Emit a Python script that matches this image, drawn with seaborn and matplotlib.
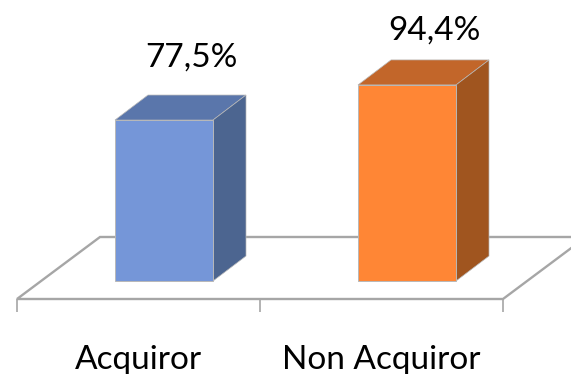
import matplotlib
matplotlib.use("Agg")
import matplotlib.pyplot as plt
import seaborn as sns
import pandas as pd
from matplotlib.patches import Polygon

categories = ["Acquiror", "Non Acquiror"]
values = [77.5, 94.4]
label_lift = [30.3, 26.4]
front_colors = ["#7596D8", "#FF8635"]
top_colors = ["#5A76AB", "#C2662A"]
side_colors = ["#4C6590", "#A0551F"]
grid_color = "#A6A6A6"

W, H = 571, 374
px_x = 243.0          # pixels per category
px_y = 2.077          # pixels per value unit

sns.set_theme(style="white")
plt.rcParams["font.family"] = ["Lato", "DejaVu Sans"]

fig = plt.figure(figsize=(W / 100, H / 100), dpi=100)
ax = fig.add_axes([17 / W, (H - 299) / H, 486 / W, 299 / H])

df = pd.DataFrame({"category": categories, "value": values})
sns.barplot(data=df, x="category", y="value", hue="category", palette=front_colors,
            saturation=1, legend=False, width=98 / px_x, ax=ax, edgecolor="#B8B8B8",
            linewidth=0.7, zorder=3, clip_on=False)

ax.set_xlim(-0.5, 1.5)
ax.set_ylim(-18 / px_y, 281 / px_y)

# depth of the 3D box, in data units
dx, dy = 33 / px_x, 25 / px_y
shift = 25.5 / px_x
fdx, fdy = 83 / px_x, 62 / px_y
y0 = ax.get_ylim()[0]

floor = Polygon([(-0.5, y0), (1.5, y0), (1.5 + fdx, y0 + fdy), (-0.5 + fdx, y0 + fdy)],
                closed=True, facecolor="white", edgecolor=grid_color, linewidth=1.7,
                zorder=1, clip_on=False, joinstyle="miter")
ax.add_patch(floor)

for patch, v, lift, tc, sc in zip(ax.patches[:2], values, label_lift, top_colors, side_colors):
    patch.set_x(patch.get_x() + shift)
    l, r = patch.get_x(), patch.get_x() + patch.get_width()
    ax.add_patch(Polygon([(l, v), (r, v), (r + dx, v + dy), (l + dx, v + dy)], closed=True,
                         facecolor=tc, edgecolor="#B8B8B8", linewidth=0.5, zorder=2, clip_on=False))
    ax.add_patch(Polygon([(r, 0), (r, v), (r + dx, v + dy), (r + dx, dy)], closed=True,
                         facecolor=sc, edgecolor="#B8B8B8", linewidth=0.5, zorder=2, clip_on=False))
    ax.text((l + r) / 2 + 27.5 / px_x, v + lift, f"{v:.1f}%".replace(".", ","),
            ha="center", va="center", fontsize=24, color="black", zorder=4, clip_on=False)

sns.despine(ax=ax, left=True, bottom=True, top=True, right=True)
ax.patch.set_alpha(0)
ax.set_xlabel("")
ax.set_ylabel("")
ax.set_yticks([])
ax.set_xticks([0, 1])
ax.set_xticklabels(categories, fontsize=24, color="black")
ax.set_xticks([-0.5, 0.5, 1.5], minor=True)
ax.tick_params(axis="x", which="major", length=0, pad=33)
ax.tick_params(axis="x", which="minor", length=9, width=1.2, color=grid_color, bottom=True)

fig.savefig("out.png", dpi=100)
